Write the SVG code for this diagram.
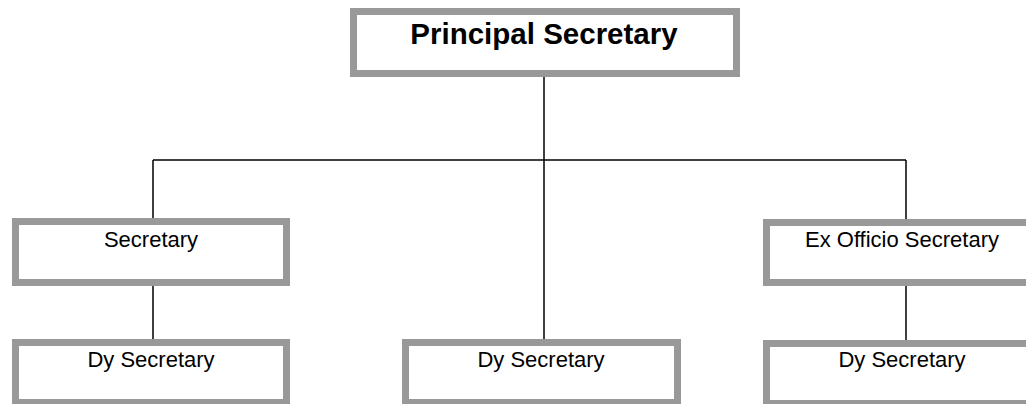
<svg xmlns="http://www.w3.org/2000/svg" width="1026" height="404" viewBox="0 0 1026 404">
<style>
.box{fill:#fff;stroke:#999;stroke-width:7}
.t{font-family:"Liberation Sans",Arial,sans-serif;font-size:22px;fill:#000;text-anchor:middle}
.tb{font-family:"Liberation Sans",Arial,sans-serif;font-size:29.5px;font-weight:bold;fill:#000;text-anchor:middle}
.c{stroke:#000;stroke-width:1.5;fill:none}
</style>
<rect width="1026" height="404" fill="#fff"/>
<g id="connectors">
<path class="c" d="M544 77V160M153 160H906M153 160V218M906 160V219M544 160V339M153 286V339M906 286V340"/>
</g>
<g id="principal">
<rect class="box" x="353.5" y="11.5" width="383" height="62"/>
<text class="tb" x="544" y="44">Principal Secretary</text>
</g>
<g id="secretary">
<rect class="box" x="15.5" y="221.5" width="271" height="61"/>
<text class="t" x="151" y="247">Secretary</text>
</g>
<g id="exofficio">
<rect class="box" x="766.5" y="222.5" width="271" height="60"/>
<text class="t" x="902" y="247">Ex Officio Secretary</text>
</g>
<g id="dy1">
<rect class="box" x="15.5" y="342.5" width="271" height="60"/>
<text class="t" x="151" y="367">Dy Secretary</text>
</g>
<g id="dy2">
<rect class="box" x="405.5" y="342.5" width="272" height="60"/>
<text class="t" x="541" y="367">Dy Secretary</text>
</g>
<g id="dy3">
<rect class="box" x="766.5" y="343.5" width="271" height="60"/>
<text class="t" x="902" y="367">Dy Secretary</text>
</g>
</svg>
